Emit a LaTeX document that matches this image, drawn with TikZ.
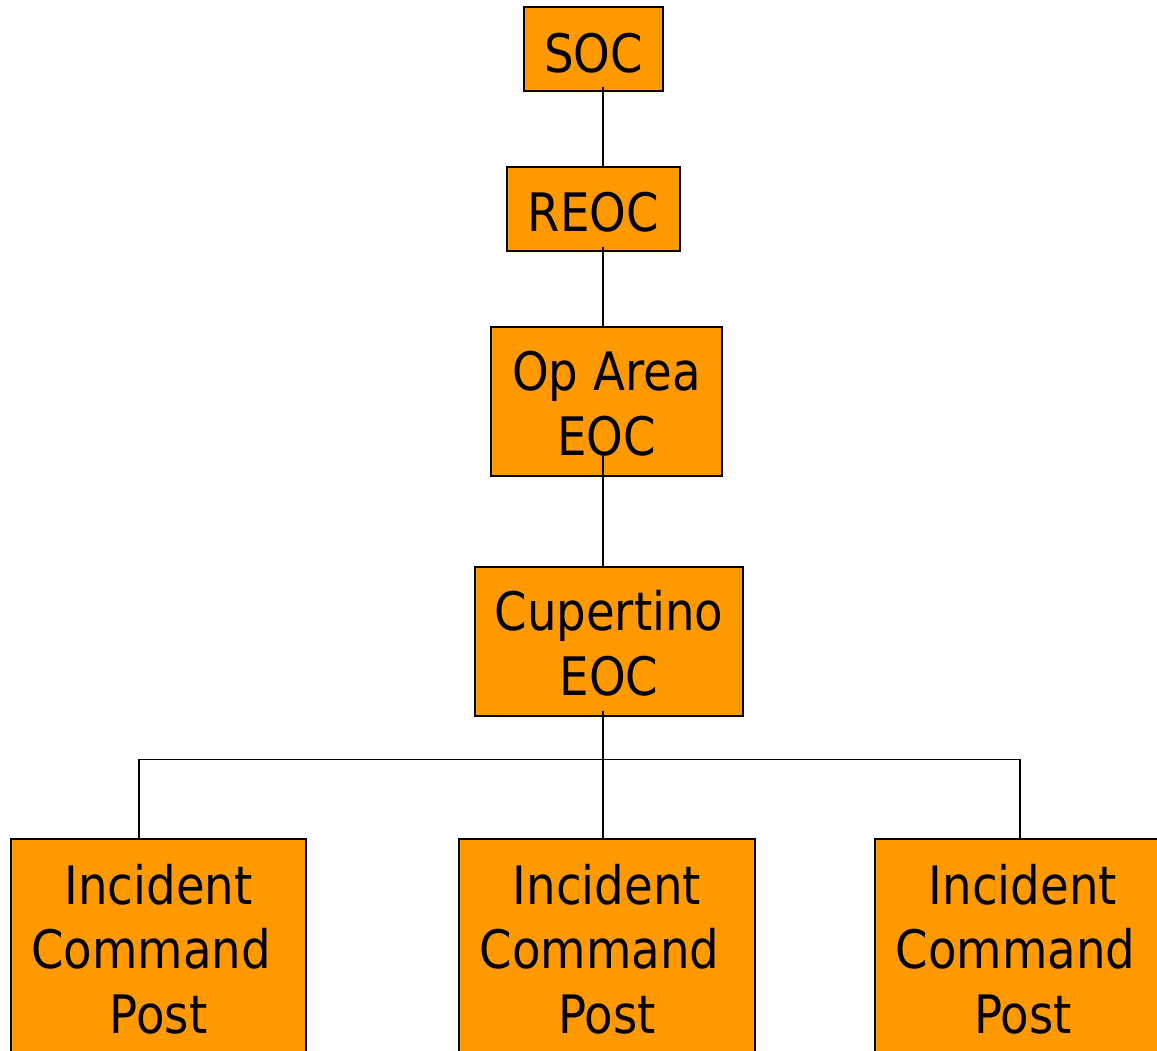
\documentclass[tikz,border=0pt]{standalone}
\usepackage{fontspec}
\setmainfont{DejaVu Sans}[FakeStretch=0.88]
\definecolor{orgfill}{HTML}{FF9900}
\begin{document}
\begin{tikzpicture}[x=1pt,y=-1pt,
  box/.style={draw=black, line width=1.4pt, fill=orgfill, inner sep=0pt, align=center,
    font=\fontsize{53pt}{64.3pt}\selectfont},
  link/.style={draw=black, line width=1.4pt}]
\useasboundingbox (0,0) rectangle (1157,1050);
\clip (0,0) rectangle (1157,1050);
\node[box, minimum width=139pt, text height=65pt, text depth=19pt] (soc) at (593.5,49) {SOC};
\node[box, minimum width=173pt, text height=64pt, text depth=20pt] (reoc) at (593.5,209) {REOC};
\node[box, minimum width=231pt, text height=128pt, text depth=21pt] (opa) at (606.5,401.5) {Op Area\\EOC};
\node[box, minimum width=268pt, text height=128pt, text depth=21pt] (cup) at (609,641.5) {Cupertino\\EOC};
\node[box, minimum width=295pt, text height=194pt, text depth=21pt] (icp1) at (158.5,946.5) {Incident\\Command\phantom{\ }\\Post};
\node[box, minimum width=296pt, text height=194pt, text depth=21pt] (icp2) at (607,946.5) {Incident\\Command\phantom{\ }\\Post};
\node[box, minimum width=296pt, text height=194pt, text depth=21pt] (icp3) at (1023,946.5) {Incident\\Command\phantom{\ }\\Post};
\coordinate (c1) at (603,87);
\coordinate (c2) at (603,247);
\coordinate (c3) at (603,455);
\coordinate (c4) at (603,711);
\coordinate (hl) at (139,759.5);
\coordinate (hr) at (1020,759.5);
\draw[link] (c1) -- (c1 |- reoc.north);
\draw[link] (c2) -- (c2 |- opa.north);
\draw[link] (c3) -- (c3 |- cup.north);
\draw[link] (c4) -- (c4 |- icp2.north);
\draw[link] (hl |- icp1.north) -- (hl) -- (hr) -- (hr |- icp3.north);
\end{tikzpicture}
\end{document}
